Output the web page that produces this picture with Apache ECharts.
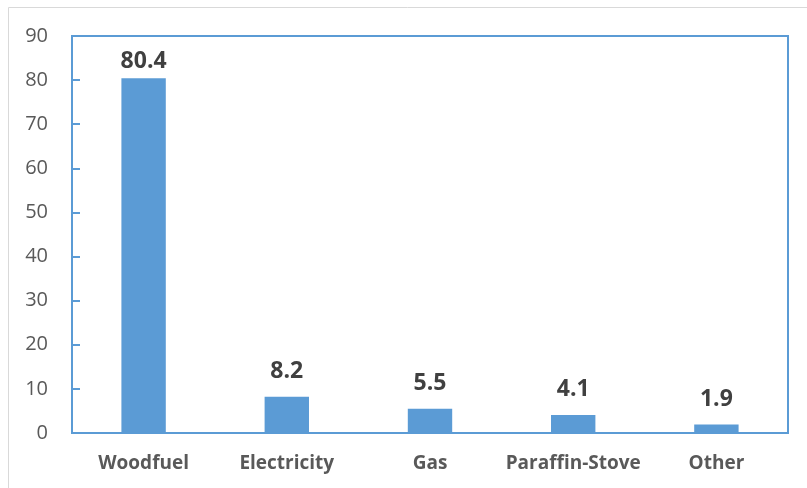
<!DOCTYPE html>
<html>
<head>
<meta charset="utf-8">
<script src="https://cdn.jsdelivr.net/npm/echarts@6/dist/echarts.min.js"></script>
<style>
html, body { margin: 0; padding: 0; background: #fff; }
#chart { width: 807px; height: 488px; }
</style>
</head>
<body>
<div id="chart"></div>
<script>
// heating sources, share in percent
const categories = ['Woodfuel', 'Electricity', 'Gas', 'Paraffin-Stove', 'Other'];
const shares = [80.4, 8.2, 5.5, 4.1, 1.9];
const yTicks = [0, 90, 10]; // min, max, step

const blue = '#5B9BD5';
const chart = echarts.init(document.getElementById('chart'));

chart.setOption({
    animation: false,
    graphic: [
        {
            type: 'polyline',
            shape: { points: [[8.5, 488], [8.5, 7.5], [807, 7.5]] },
            style: { stroke: '#D9D9D9', lineWidth: 1, fill: null }
        }
    ],
    grid: {
        left: 72,
        right: 19,
        top: 36,
        bottom: 55,
        show: true,
        borderColor: blue,
        borderWidth: 2
    },
    xAxis: {
        type: 'category',
        data: categories,
        axisLine: { lineStyle: { color: blue, width: 2 } },
        axisTick: { show: false },
        axisLabel: {
            interval: 0,
            margin: 21,
            fontFamily: 'Open Sans',
            fontWeight: 'bold',
            fontSize: 19,
            color: '#595959'
        }
    },
    yAxis: {
        type: 'value',
        min: yTicks[0],
        max: yTicks[1],
        interval: yTicks[2],
        splitLine: { show: false },
        axisLine: { show: true, lineStyle: { color: blue, width: 2 } },
        axisTick: { show: true, inside: true, length: 8, lineStyle: { color: blue, width: 2 } },
        axisLabel: {
            margin: 24,
            fontFamily: 'Open Sans',
            fontSize: 20,
            color: '#595959'
        }
    },
    series: [
        {
            type: 'bar',
            // the tall bar's label sits closer to its bar (it is squeezed under the top edge)
            data: shares.map((v, i) => i === 0 ? { value: v, label: { distance: 5 } } : v),
            barWidth: '31%',
            itemStyle: { color: blue },
            label: {
                show: true,
                position: 'top',
                distance: 14,
                fontFamily: 'Open Sans',
                fontWeight: 'bold',
                fontSize: 23,
                color: '#404040'
            }
        }
    ]
});
</script>
</body>
</html>
